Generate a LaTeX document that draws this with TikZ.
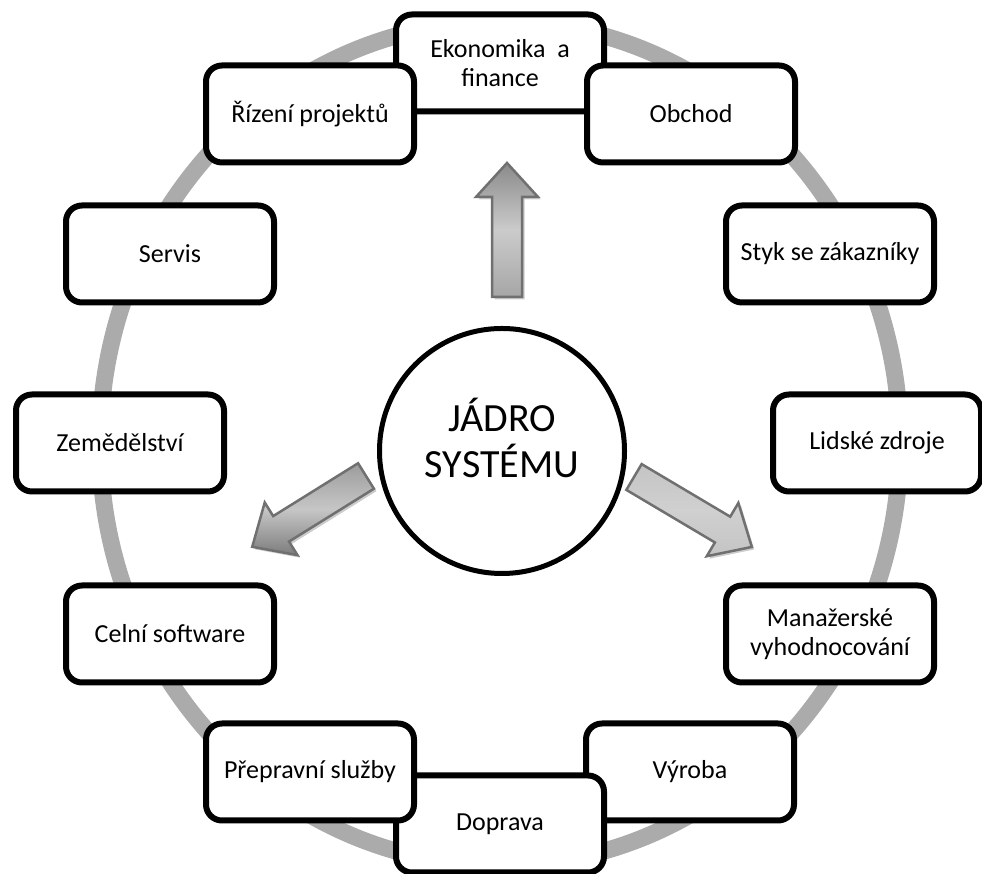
\documentclass[tikz,border=0pt]{standalone}
\usepackage{fontspec}
\setmainfont{Carlito}
\definecolor{ringgray}{HTML}{ABABAB}
\definecolor{arrowedge}{HTML}{707070}
\definecolor{updark}{HTML}{8A8A8A}
\definecolor{uplight}{HTML}{CBCBCB}
\definecolor{upright}{HTML}{A6A6A6}
\definecolor{ldark}{HTML}{7C7C7C}
\definecolor{llight}{HTML}{C6C6C6}
\definecolor{lmid}{HTML}{9C9C9C}
\definecolor{rlight}{HTML}{D0D0D0}
\definecolor{rmid}{HTML}{C4C4C4}

% block arrow pointing along +x, #1 = length
\newcommand\blockarrowpath[1]{(0,-15) -- ({#1-34},-15) -- ({#1-34},-31) -- (#1,0) -- ({#1-34},31) -- ({#1-34},15) -- (0,15) -- cycle}
% #1 tail point, #2 direction, #3 length, #4 shading options
\newcommand\blockarrow[4]{%
  \begin{scope}[shift={(2.5,-2.5)}]
    \begin{scope}[shift={#1}, rotate=#2]
      \fill[arrowshadow] \blockarrowpath{#3};
    \end{scope}
  \end{scope}
  \begin{scope}[shift={#1}, rotate=#2]
    \shade[#4, arrowline] \blockarrowpath{#3};
  \end{scope}}

\begin{document}
\begin{tikzpicture}[x=1pt,y=1pt,
  module/.style={draw=black, line width=6pt, rounded corners=16pt, fill=white,
    minimum width=208pt, minimum height=97pt, align=center, inner sep=0pt,
    font=\fontsize{26}{28.5}\selectfont},
  core/.style={circle, draw=black, line width=5pt, fill=white,
    minimum size=245pt, inner sep=0pt},
  coretext/.style={align=center, inner sep=0pt, font=\fontsize{40}{46}\selectfont},
  ring/.style={draw=ringgray, line width=17pt},
  arrowline/.style={draw=arrowedge, line width=2.5pt, line join=miter},
  arrowshadow/.style={fill=black, opacity=0.2},
]
\useasboundingbox (0,0) rectangle (982,874);

% outer ring behind the modules
\draw[ring] (500,430.5) ellipse [x radius=400, y radius=422];

% modules, clockwise from the top; each one overlaps the previous one
\node[module] (ekonomika)  at (500,811) {Ekonomika~ a\\finance};
\node[module] (obchod)     at (691,760) {Obchod};
\node[module] (styk)       at (830,620) {Styk se zákazníky};
\node[module] (lidske)     at (877,431) {Lidské zdroje};
\node[module] (manazerske) at (830,240) {Manažerské\\vyhodnocování};
\node[module] (vyroba)     at (690,102) {Výroba};
\node[module] (doprava)    at (500,50)  {Doprava};
\node[module] (prepravni)  at (310,102) {Přepravní služby};
\node[module] (celni)      at (170,240) {Celní software};
\node[module] (zemedelstvi) at (120,431) {Zemědělství};
\node[module] (servis)     at (170,620) {Servis};
\node[module] (rizeni)     at (310,760) {Řízení projektů};

% system core
\node[core] (jadro) at (502,423) {};
\node[coretext] (jadrotext) at (502,436) {JÁDRO\\SYSTÉMU};

% block arrows leaving the core
\blockarrow{(507,577)}{90}{134}{top color=updark, bottom color=upright, middle color=uplight}
\blockarrow{(366,398)}{211.9}{134}{top color=lmid, bottom color=ldark, middle color=llight}
\blockarrow{(634,397)}{-30.7}{137}{top color=rmid, bottom color=rmid, middle color=rlight}
\end{tikzpicture}
\end{document}
